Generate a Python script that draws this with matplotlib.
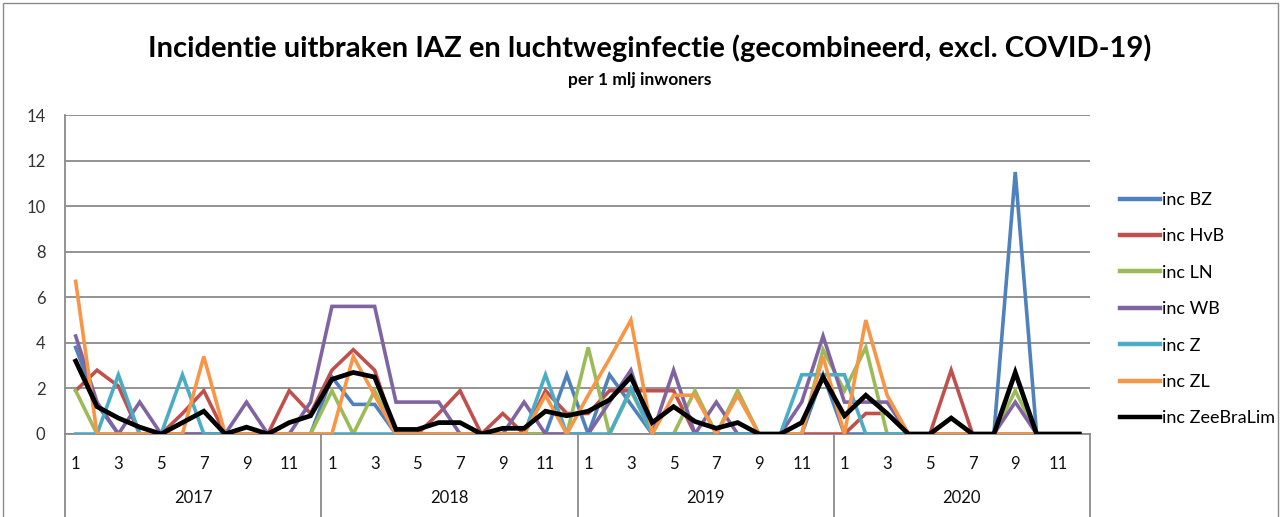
import matplotlib
matplotlib.use("Agg")
import matplotlib.pyplot as plt
from matplotlib.patches import Rectangle
from matplotlib.lines import Line2D

years = ["2017", "2018", "2019", "2020"]
months = list(range(1, 13))
series_names = ["inc BZ", "inc HvB", "inc LN", "inc WB", "inc Z", "inc ZL", "inc ZeeBraLim"]

inc_BZ = [3.8, 1.3, 0, 0, 0, 0, 0, 0, 0, 0, 0, 0,
          2.5, 1.3, 1.3, 0, 0, 0, 0, 0, 0, 0, 0, 2.6,
          0, 2.6, 1.3, 0, 0, 0, 0, 0, 0, 0, 0, 2.6,
          0, 0, 0, 0, 0, 0, 0, 0, 11.5, 0, 0, 0]
inc_HvB = [1.9, 2.8, 2.1, 0, 0, 0.9, 1.9, 0, 0, 0, 1.9, 0.9,
           2.8, 3.7, 2.8, 0, 0, 0.9, 1.9, 0, 0.9, 0, 1.9, 0.9,
           0.9, 1.9, 1.9, 1.9, 1.9, 0, 0, 0, 0, 0, 0, 0,
           0, 0.9, 0.9, 0, 0, 2.8, 0, 0, 0, 0, 0, 0]
inc_LN = [1.9, 0, 0, 0, 0, 0, 0, 0, 0, 0, 0, 0,
          1.9, 0, 1.9, 0, 0, 0, 0, 0, 0, 0, 0, 0,
          3.8, 0, 1.9, 0, 0, 1.9, 0, 1.9, 0, 0, 0, 3.7,
          1.9, 3.8, 0, 0, 0, 0, 0, 0, 1.9, 0, 0, 0]
inc_WB = [4.3, 1.4, 0, 1.4, 0, 0, 0, 0, 1.4, 0, 0, 1.4,
          5.6, 5.6, 5.6, 1.4, 1.4, 1.4, 0, 0, 0, 1.4, 0, 0,
          0, 1.4, 2.8, 0, 2.8, 0, 1.4, 0, 0, 0, 1.4, 4.3,
          1.4, 1.4, 1.4, 0, 0, 0, 0, 0, 1.4, 0, 0, 0]
inc_Z = [0, 0, 2.6, 0, 0, 2.6, 0, 0, 0, 0, 0, 0,
         0, 0, 0, 0, 0, 0, 0, 0, 0, 0, 2.6, 0,
         0, 0, 2.0, 0, 0, 0, 0, 0, 0, 0, 2.6, 2.6,
         2.6, 0, 0, 0, 0, 0, 0, 0, 0, 0, 0, 0]
inc_ZL = [6.7, 0, 0, 0, 0, 0, 3.4, 0, 0, 0, 0, 0,
          0, 3.4, 1.7, 0, 0, 0, 0, 0, 0, 0, 1.7, 0,
          1.7, 3.3, 5.0, 0, 1.7, 1.7, 0, 1.7, 0, 0, 0, 3.4,
          0, 5.0, 1.7, 0, 0, 0, 0, 0, 0, 0, 0, 0]
inc_ZeeBraLim = [3.2, 1.2, 0.7, 0.3, 0.0, 0.5, 1.0, 0.0, 0.3, 0.0, 0.5, 0.8,
                 2.4, 2.7, 2.5, 0.2, 0.2, 0.5, 0.5, 0.0, 0.25, 0.25, 1.0, 0.8,
                 1.0, 1.5, 2.5, 0.5, 1.2, 0.55, 0.25, 0.5, 0.0, 0.0, 0.5, 2.5,
                 0.8, 1.7, 0.9, 0.0, 0.0, 0.7, 0.0, 0.0, 2.7, 0.0, 0.0, 0.0]

data = [inc_BZ, inc_HvB, inc_LN, inc_WB, inc_Z, inc_ZL, inc_ZeeBraLim]
colors = ["#4F81BD", "#C0504D", "#9BBB59", "#8064A2", "#4BACC6", "#F79646", "#000000"]
widths = [2.6, 2.6, 2.6, 2.6, 2.6, 2.6, 3.4]

plt.rcParams['font.family'] = ['Lato', 'DejaVu Sans']

W, H = 1281, 517
fig = plt.figure(figsize=(W / 100, H / 100), dpi=100)
ax = fig.add_axes([65 / W, 1 - 434 / H, (1090 - 65) / W, (434 - 115) / H])

n = len(years) * len(months)
x = list(range(n))
for vals, c, lw, name in zip(data, colors, widths, series_names):
    ax.plot(x, vals, color=c, lw=lw, label=name, solid_joinstyle='miter', zorder=3)

ax.set_xlim(-0.5, n - 0.5)
ax.set_ylim(0, 14)
ax.set_yticks(range(0, 15, 2))
ax.tick_params(axis='y', length=0, labelsize=12, pad=14, colors='#333333')
ax.grid(axis='y', color='#8a8a8a', lw=1.3)
ax.set_axisbelow(True)
for s in ['top', 'right']:
    ax.spines[s].set_visible(False)
ax.spines['left'].set_color('#8a8a8a')
ax.spines['left'].set_linewidth(1.3)
ax.spines['bottom'].set_color('#8a8a8a')
ax.spines['bottom'].set_linewidth(1.3)

tick_pos = [i for i in x if months[i % 12] % 2 == 1]
ax.set_xticks(tick_pos)
ax.set_xticklabels([str(months[i % 12]) for i in tick_pos])
ax.tick_params(axis='x', length=0, labelsize=12, pad=16, colors='#111111')

trans = ax.get_xaxis_transform()
for k in range(len(years) + 1):
    xs = k * 12 - 0.5
    ax.add_line(Line2D([xs, xs], [0, -83 / 319], transform=trans, color='#8a8a8a',
                       lw=1.3, clip_on=False))
for k, yr in enumerate(years):
    ax.text(k * 12 + 5.5, -64 / 319, yr, transform=trans, ha='center', va='center',
            fontsize=12, color='#111111')

fig.text(650 / W, 1 - 48 / H,
         "Incidentie uitbraken IAZ en luchtweginfectie (gecombineerd, excl. COVID-19)",
         ha='center', va='center', fontsize=21, fontweight='bold')
fig.text(640 / W, 1 - 80 / H, "per 1 mlj inwoners", ha='center', va='center',
         fontsize=12.5, fontweight='bold')

leg = fig.legend(loc='upper left', bbox_to_anchor=(1120 / W, 1 - 192 / H), frameon=False,
                 fontsize=13, handlelength=2.2, handletextpad=0.1, labelspacing=1.13,
                 borderaxespad=0, borderpad=0)
for h in leg.get_lines():
    h.set_linewidth(3.2)

fig.add_artist(Rectangle((3 / W, -0.01), 1 - 6 / W, 1 - 3 / H + 0.01, transform=fig.transFigure,
                         fill=False, edgecolor='#8a8a8a', lw=1.0))

fig.savefig("out.png", dpi=100)
